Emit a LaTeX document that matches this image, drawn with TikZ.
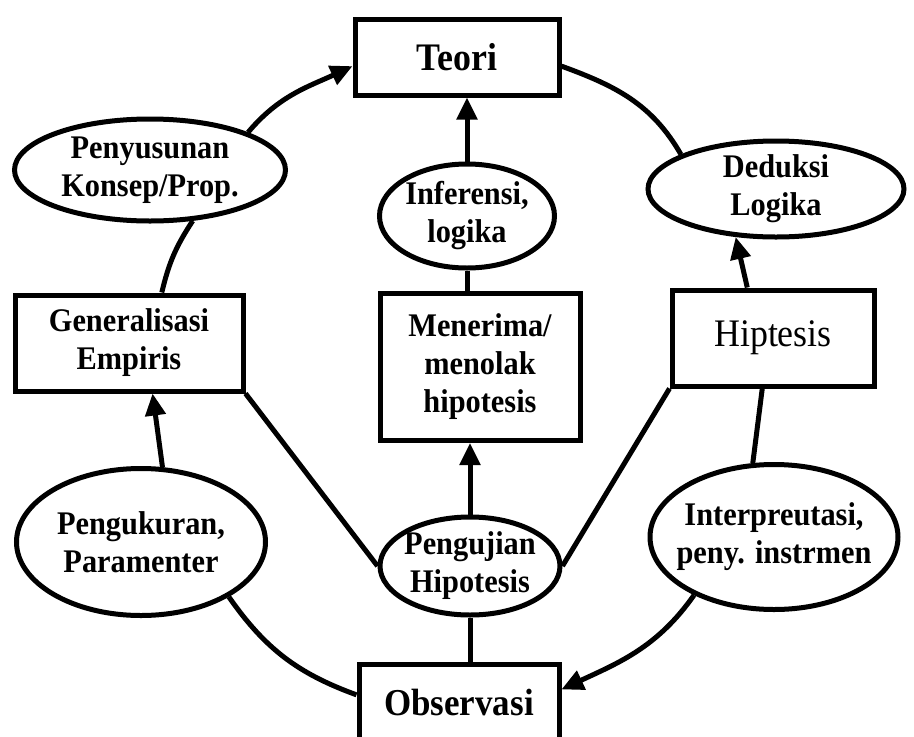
\documentclass[tikz,border=0pt]{standalone}
\usepackage{fontspec}
\setmainfont{Liberation Serif}[FakeStretch=0.92]
\usetikzlibrary{shapes.geometric,arrows.meta}

\tikzset{
  kotak/.style={draw,rectangle,line width=5pt,inner sep=0pt,align=center,font=\bfseries\fontsize{33}{38}\selectfont},
  elips/.style={draw,ellipse,line width=5pt,inner xsep=-25pt,inner ysep=-6pt,align=center,font=\bfseries\fontsize{33}{38}\selectfont},
  garis/.style={line width=5pt},
  panah/.style={garis,-{Triangle[length=22pt,width=20pt]}},
}

\begin{document}
\begin{tikzpicture}[x=1pt,y=1pt]
      \useasboundingbox (0,0) rectangle (914,-737);
      % kotak
      \node[kotak,minimum width=204,minimum height=76,font=\bfseries\fontsize{39}{40}\selectfont] (teori) at (457,-57) {Teori};
      \node[kotak,minimum width=200,minimum height=76,font=\bfseries\fontsize{38}{40}\selectfont] (obs) at (459,-702) {Observasi};
      \node[kotak,minimum width=228,minimum height=96] (gen) at (129,-343) {Generalisasi\\Empiris};
      \node[kotak,minimum width=200,minimum height=147] (terima) at (480,-367) {Menerima/\\menolak\\hipotesis};
      \node[kotak,minimum width=202,minimum height=96,font=\fontsize{39}{40}\selectfont] (hip) at (773,-338) {Hiptesis};
      % elips
      \node[elips,minimum width=271,minimum height=102] (pen) at (150,-170) {Penyusunan\\Konsep/Prop.};
      \node[elips,minimum width=175,minimum height=104] (inf) at (467,-216) {Inferensi,\\logika};
      \node[elips,minimum width=256,minimum height=96] (ded) at (776,-189) {Deduksi\\Logika};
      \node[elips,minimum width=249,minimum height=147] (ukur) at (141,-542) {Pengukuran,\\Paramenter};
      \node[elips,minimum width=180,minimum height=98] (uji) at (470,-566) {Pengujian\\Hipotesis};
      \node[elips,minimum width=248,minimum height=145] (interp) at (774,-537) {Interpreutasi,\\peny. instrmen};
      % lingkaran luar
      \draw[panah] (pen.21) to[out=50,in=205] (teori.185);
      \draw[garis] (gen.57) to[bend left=10] (pen.-50);
      \draw[panah] (ukur.74) -- (gen.-65);
      \draw[garis] (obs.176) to[out=160,in=-55] (ukur.-32);
      \draw[panah] (interp.216) to[out=235,in=25] (obs.7);
      \draw[garis] (hip.-102) -- (interp.106);
      \draw[panah] (hip.117) -- (ded.230);
      \draw[garis] (teori.-5) to[out=-20,in=120] (ded.160);
      % jalur tengah
      \draw[panah] (inf.north) -- (inf.north |- teori.south);
      \draw[garis] (inf.south) -- (inf.south |- terima.north);
      \draw[panah] (uji.north) -- (uji.north |- terima.south);
      \draw[garis] (uji.south) -- (uji.south |- obs.north);
      \draw[garis] (gen.south east) -- (uji.west);
      \draw[garis] (hip.south west) -- (uji.east);
\end{tikzpicture}
\end{document}
